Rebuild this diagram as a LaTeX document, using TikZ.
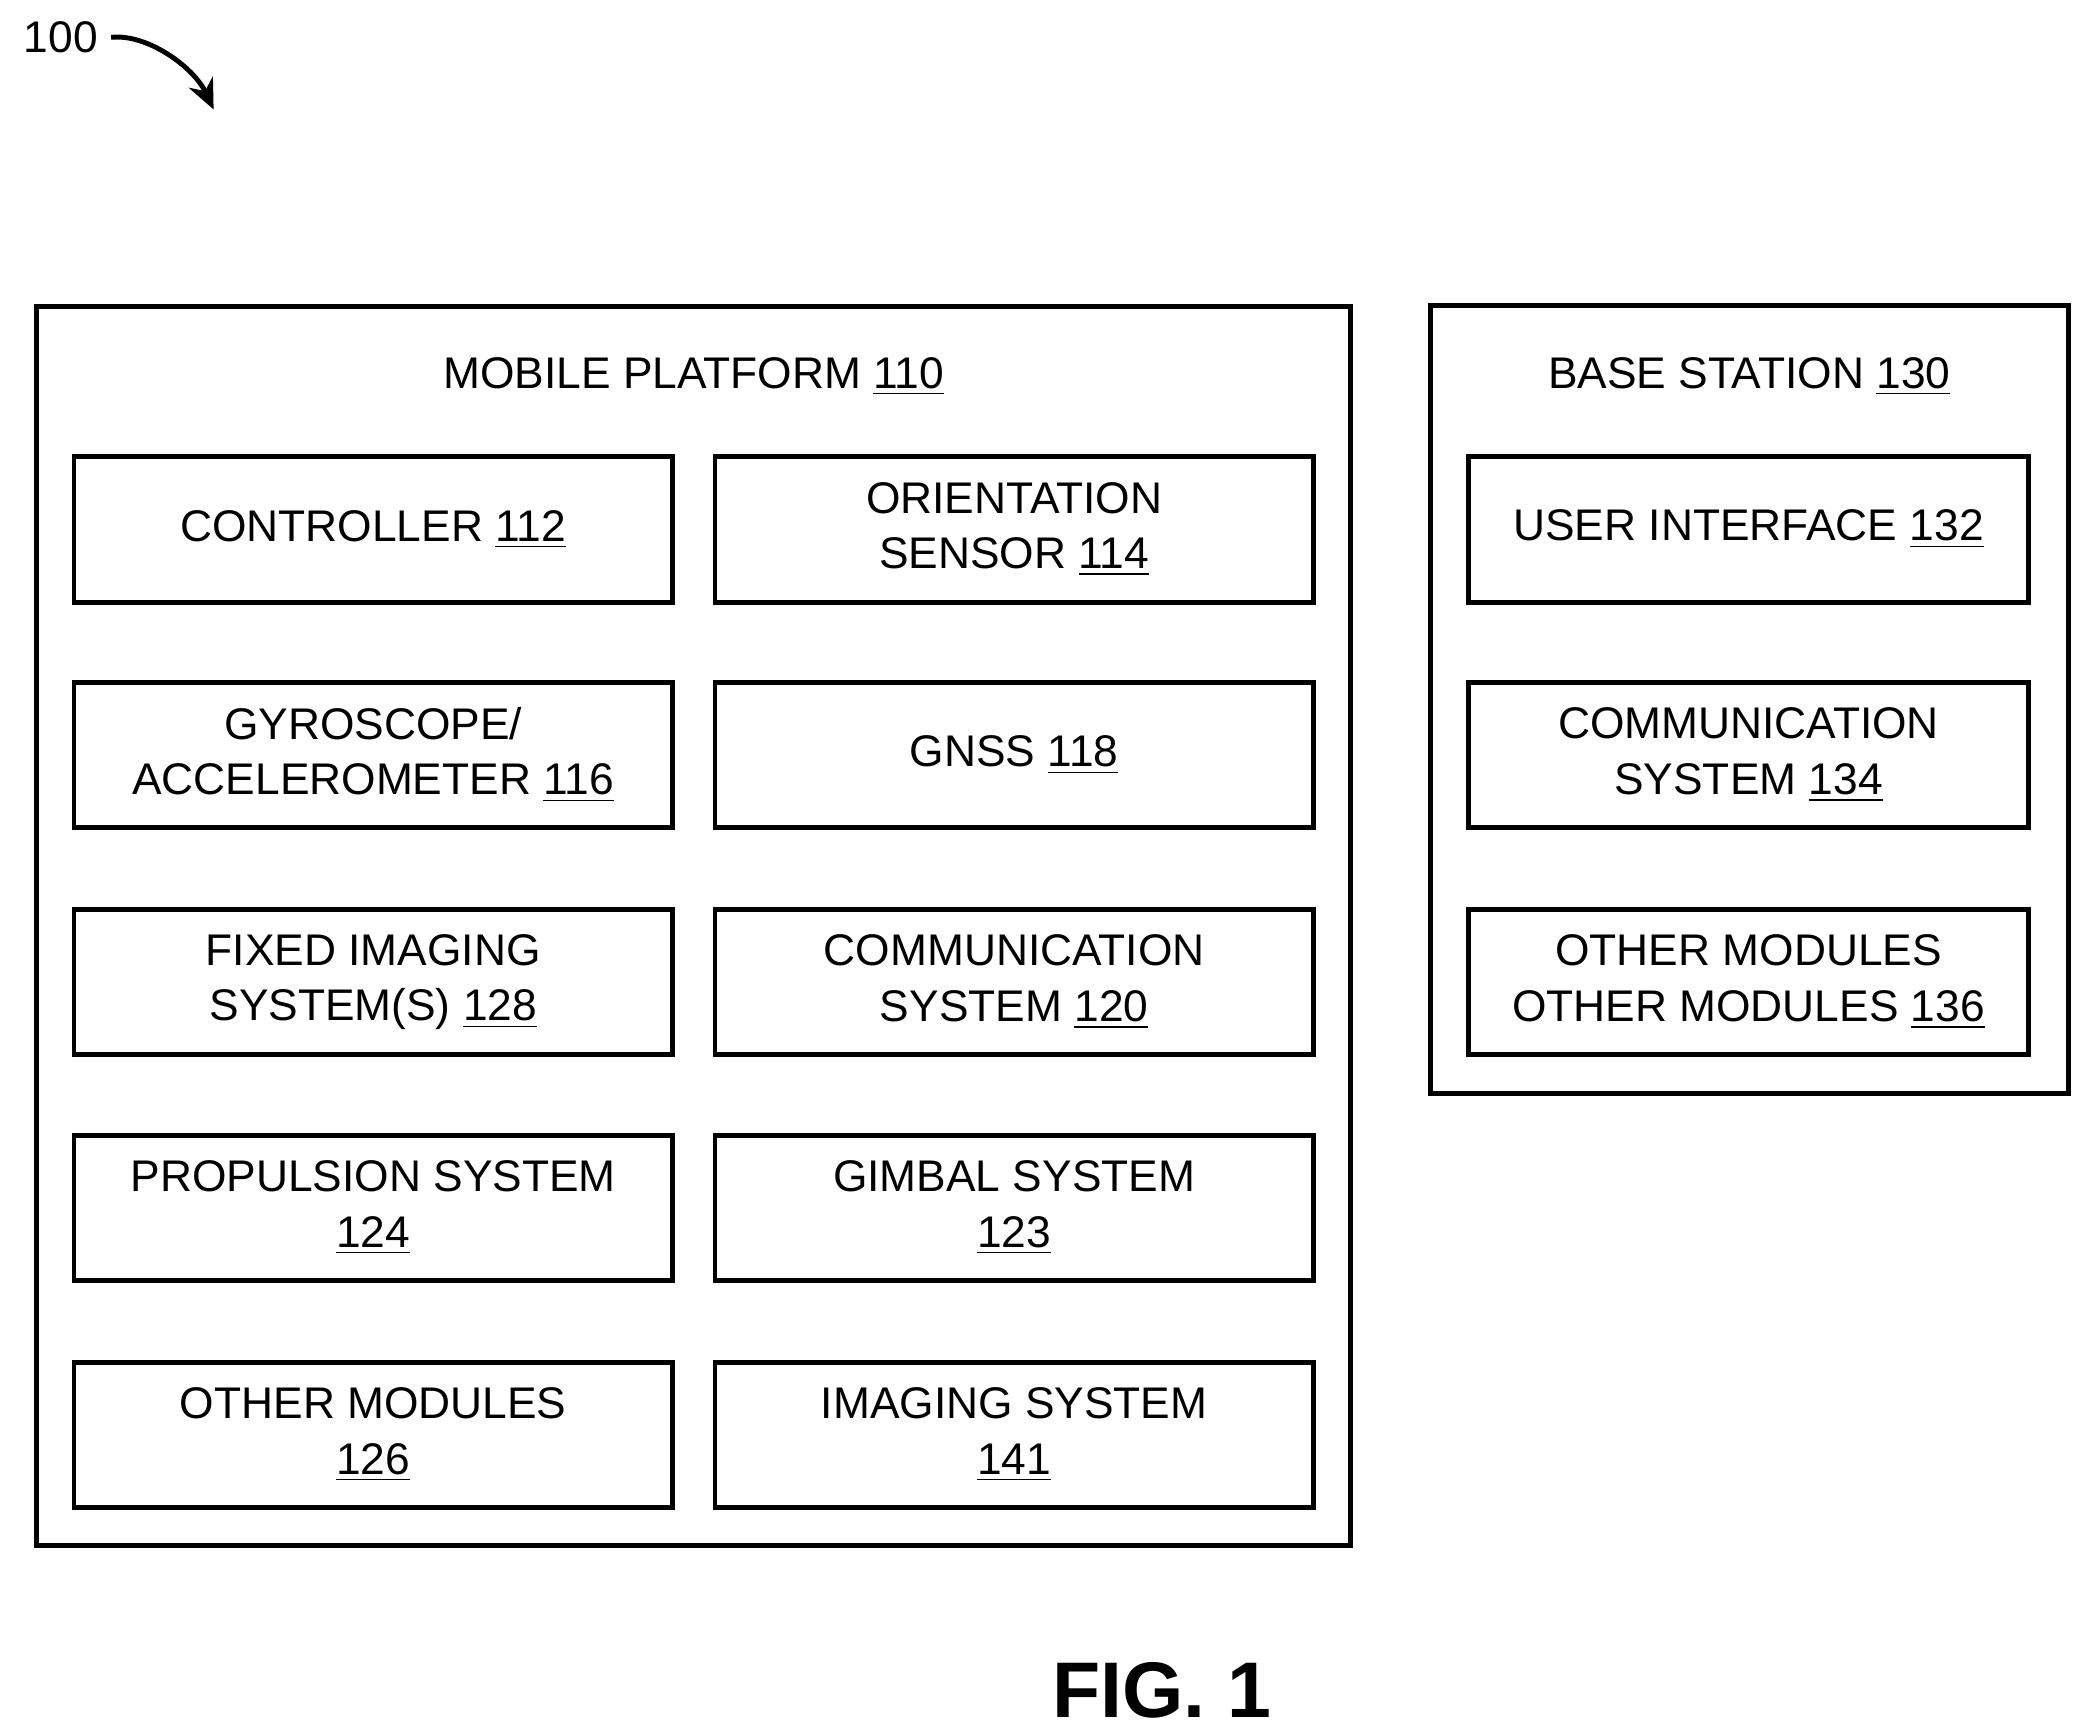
\documentclass[tikz,border=0pt]{standalone}
\usepackage{fontspec}
\setmainfont{Liberation Sans}
\usetikzlibrary{arrows.meta,positioning}
\tikzset{
  frame/.style={draw, line width=1.3pt},
  blk/.style={draw, line width=1.3pt, minimum width=5.6cm, minimum height=1.36cm, align=center, font=\fontsize{11.8}{14.8}\selectfont},
  bblk/.style={blk, minimum width=5.24cm},
  ttl/.style={font=\fontsize{11.8}{14.8}\selectfont},
}
\newcommand{\refnum}[1]{\underline{#1}}
\begin{document}
\begin{tikzpicture}[x=0.0125cm,y=-0.0125cm]
  \useasboundingbox (0,0) rectangle (1560,1298);
  %reference label
  \node[ttl, anchor=west] (num) at (8,28) {100};
  \coordinate (tip) at (160,82);
  \draw[line width=1.3pt, -{Stealth[length=8pt,width=7pt]}] (num.east) .. controls (110,25) and (145,50) .. (tip);
  %outer frames
  \node[frame, minimum width=12.3cm, minimum height=11.6cm] (mp) at (519.5,693.5) {};
  \node[frame, minimum width=5.97cm, minimum height=7.37cm] (bs) at (1310,524) {};
  \node[ttl] (mpt) at (519.5,282) {MOBILE PLATFORM \refnum{110}};
  \node[ttl] (bst) at (1310,282) {BASE STATION \refnum{130}};
  %mobile platform blocks
  \node[blk] (ctl) at (279.5,396.5) {CONTROLLER \refnum{112}};
  \node[blk] (ori) at (759.5,396.5) {ORIENTATION\\SENSOR \refnum{114}};
  \node[blk] (gyr) at (279.5,565.5) {GYROSCOPE/\\ACCELEROMETER \refnum{116}};
  \node[blk] (gns) at (759.5,565.5) {GNSS \refnum{118}};
  \node[blk] (fix) at (279.5,735.5) {FIXED IMAGING\\SYSTEM(S) \refnum{128}};
  \node[blk] (com) at (759.5,735.5) {COMMUNICATION\\SYSTEM \refnum{120}};
  \node[blk] (pro) at (279.5,904.5) {PROPULSION SYSTEM\\\refnum{124}};
  \node[blk] (gim) at (759.5,904.5) {GIMBAL SYSTEM\\\refnum{123}};
  \node[blk] (oth) at (279.5,1074.5) {OTHER MODULES\\\refnum{126}};
  \node[blk] (img) at (759.5,1074.5) {IMAGING SYSTEM\\\refnum{141}};
  %base station blocks
  \node[bblk] (ui) at (1309.5,396.5) {USER INTERFACE \refnum{132}};
  \node[bblk] (bcom) at (1309.5,565.5) {COMMUNICATION\\SYSTEM \refnum{134}};
  \node[bblk] (both) at (1309.5,735.5) {OTHER MODULES\\OTHER MODULES \refnum{136}};
  %caption
  \node[font=\fontsize{21}{24}\selectfont\bfseries] (fig) at (870,1266) {FIG. 1};
\end{tikzpicture}
\end{document}
